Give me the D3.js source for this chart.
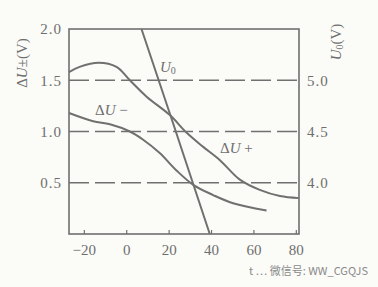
<!DOCTYPE html>
<html>
<head>
<meta charset="utf-8">
<script src="https://cdn.jsdelivr.net/npm/d3@7"></script>
<style>
    html, body { margin: 0; padding: 0; background: #fbfbf8; }
    svg { display: block; }
</style>
</head>
<body>
<div id="chart"></div>
<script>

// temperature axis
var xTicks = [ -20, 0, 20, 40, 60, 80 ];

// left axis (ΔU±) and right axis (U0)
var leftTicks = [ 0.5, 1.0, 1.5, 2.0 ];
var rightTicks = [ 4.0, 4.5, 5.0 ];
var gridLevels = [ 0.5, 1.0, 1.5 ];

// ΔU+ curve
var dUplusT = [ -27, -22, -13, -4.6, 1.7, 9.6, 20.6, 28.4, 36.3, 44.2, 53.6, 63, 72.5, 81.4 ];
var dUplusV = [ 1.58, 1.63, 1.67, 1.63, 1.50, 1.34, 1.16, 0.99, 0.85, 0.72, 0.53, 0.43, 0.37, 0.35 ];

// ΔU- curve
var dUminusT = [ -27, -15.6, -7.7, 1.7, 8.0, 15.8, 23.7, 31.6, 41.0, 50.4, 66.2 ];
var dUminusV = [ 1.18, 1.10, 1.07, 1.00, 0.92, 0.79, 0.62, 0.48, 0.38, 0.30, 0.23 ];

// U0 line (right axis)
var u0T = [ 7.2, 22.1, 39.4 ];
var u0V = [ 5.5, 4.58, 3.5 ];

var width = 378,
    height = 287;

// frame edges ( 'top' is taken by window.top )
var frameL = 69, frameR = 299, frameT = 29, frameB = 234;

var ink = '#707070',
    textInk = '#6e6e6e';

var x = d3.scaleLinear()
    .domain([ -27, 81.5 ])
    .range([ frameL, frameR ]);

var yL = d3.scaleLinear()
    .domain([ 0, 2 ])
    .range([ frameB, frameT ]);

var yR = d3.scaleLinear()
    .domain([ 3.5, 5.5 ])
    .range([ frameB, frameT ]);

var svg = d3.select('#chart').append('svg')
    .attr('width', width)
    .attr('height', height)
    .style('font-family', '"Liberation Serif", "DejaVu Serif", serif');

// dashed guide lines
svg.selectAll('.grid')
    .data( gridLevels )
    .enter().append('line')
    .attr('class', 'grid')
    .attr('x1', frameL)
    .attr('x2', frameR)
    .attr('y1', function ( d ) { return yL( d ) })
    .attr('y2', function ( d ) { return yL( d ) })
    .style('stroke', ink)
    .style('stroke-width', 1.3)
    .style('stroke-dasharray', '20,6');

// frame
svg.append('rect')
    .attr('x', frameL)
    .attr('y', frameT)
    .attr('width', frameR - frameL)
    .attr('height', frameB - frameT)
    .style('fill', 'none')
    .style('stroke', ink)
    .style('stroke-width', 1.6);

// bottom axis with small inner ticks
var xAxis = d3.axisBottom( x )
    .tickValues( xTicks )
    .tickSize( -4 )
    .tickPadding( 10 )
    .tickFormat( function ( d ) { return d < 0 ? '\u2212' + Math.abs( d ) : d } );

var gx = svg.append('g')
    .attr('transform', 'translate(0,' + frameB + ')')
    .call( xAxis );

gx.select('.domain').remove();
gx.selectAll('line').style('stroke', ink).style('stroke-width', 1.2);
gx.selectAll('text')
    .style('font-size', '15px')
    .style('fill', textInk)
    .style('font-family', '"Liberation Serif", serif');

// left axis labels
var yAxisL = d3.axisLeft( yL )
    .tickValues( leftTicks )
    .tickSize( 0 )
    .tickPadding( 7 )
    .tickFormat( d3.format('.1f') );

var gl = svg.append('g')
    .attr('transform', 'translate(' + frameL + ',0)')
    .call( yAxisL );

gl.select('.domain').remove();
gl.selectAll('text')
    .style('font-size', '15px')
    .style('letter-spacing', '1px')
    .style('fill', textInk)
    .style('font-family', '"Liberation Serif", serif');

// right axis labels
var yAxisR = d3.axisRight( yR )
    .tickValues( rightTicks )
    .tickSize( 0 )
    .tickPadding( 8 )
    .tickFormat( d3.format('.1f') );

var gr = svg.append('g')
    .attr('transform', 'translate(' + frameR + ',0)')
    .call( yAxisR );

gr.select('.domain').remove();
gr.selectAll('text')
    .style('font-size', '15px')
    .style('letter-spacing', '1px')
    .style('fill', textInk)
    .style('font-family', '"Liberation Serif", serif');

// curves
var lineL = d3.line()
    .x( function ( d ) { return x( d[0] ) })
    .y( function ( d ) { return yL( d[1] ) })
    .curve( d3.curveCatmullRom.alpha( 0.5 ) );

var lineR = d3.line()
    .x( function ( d ) { return x( d[0] ) })
    .y( function ( d ) { return yR( d[1] ) });

svg.append('path')
    .datum( d3.zip( dUplusT, dUplusV ) )
    .attr('d', lineL)
    .style('fill', 'none')
    .style('stroke', ink)
    .style('stroke-width', 2);

svg.append('path')
    .datum( d3.zip( dUminusT, dUminusV ) )
    .attr('d', lineL)
    .style('fill', 'none')
    .style('stroke', ink)
    .style('stroke-width', 2);

svg.append('path')
    .datum( d3.zip( u0T, u0V ) )
    .attr('d', lineR)
    .style('fill', 'none')
    .style('stroke', ink)
    .style('stroke-width', 2);

// curve labels
var u0Label = svg.append('text')
    .attr('x', 160)
    .attr('y', 72)
    .style('font-size', '15px')
    .style('fill', textInk);
u0Label.append('tspan').style('font-style', 'italic').text('U');
u0Label.append('tspan').attr('dy', 2).style('font-size', '10px').text('0');

var minusLabel = svg.append('text')
    .attr('x', 95)
    .attr('y', 115)
    .style('font-size', '15px')
    .style('fill', textInk);
minusLabel.append('tspan').text('\u0394');
minusLabel.append('tspan').style('font-style', 'italic').text('U');
minusLabel.append('tspan').text(' \u2212');

var plusLabel = svg.append('text')
    .attr('x', 220)
    .attr('y', 153)
    .style('font-size', '15px')
    .style('fill', textInk);
plusLabel.append('tspan').text('\u0394');
plusLabel.append('tspan').style('font-style', 'italic').text('U');
plusLabel.append('tspan').text(' +');

// axis titles
var leftTitle = svg.append('text')
    .attr('transform', 'translate(27,63) rotate(-90)')
    .attr('text-anchor', 'middle')
    .style('font-size', '15px')
    .style('fill', textInk);
leftTitle.append('tspan').text('\u0394');
leftTitle.append('tspan').style('font-style', 'italic').text('U');
leftTitle.append('tspan').text('\u00B1(V)');

var rightTitle = svg.append('text')
    .attr('transform', 'translate(341,42) rotate(-90)')
    .attr('text-anchor', 'middle')
    .style('font-size', '15px')
    .style('fill', textInk);
rightTitle.append('tspan').style('font-style', 'italic').text('U');
rightTitle.append('tspan').attr('dy', 2).style('font-size', '10px').text('0');
rightTitle.append('tspan').attr('dy', -2).text('(V)');

// watermark
svg.append('text')
    .attr('x', 368)
    .attr('y', 275)
    .attr('text-anchor', 'end')
    .style('font-family', '"Noto Sans CJK SC", "DejaVu Sans", sans-serif')
    .style('font-size', '11px')
    .style('fill', '#8a8a8a')
    .text('t \u2026 \u5FAE\u4FE1\u53F7: WW_CGQJS');

</script>
</body>
</html>
